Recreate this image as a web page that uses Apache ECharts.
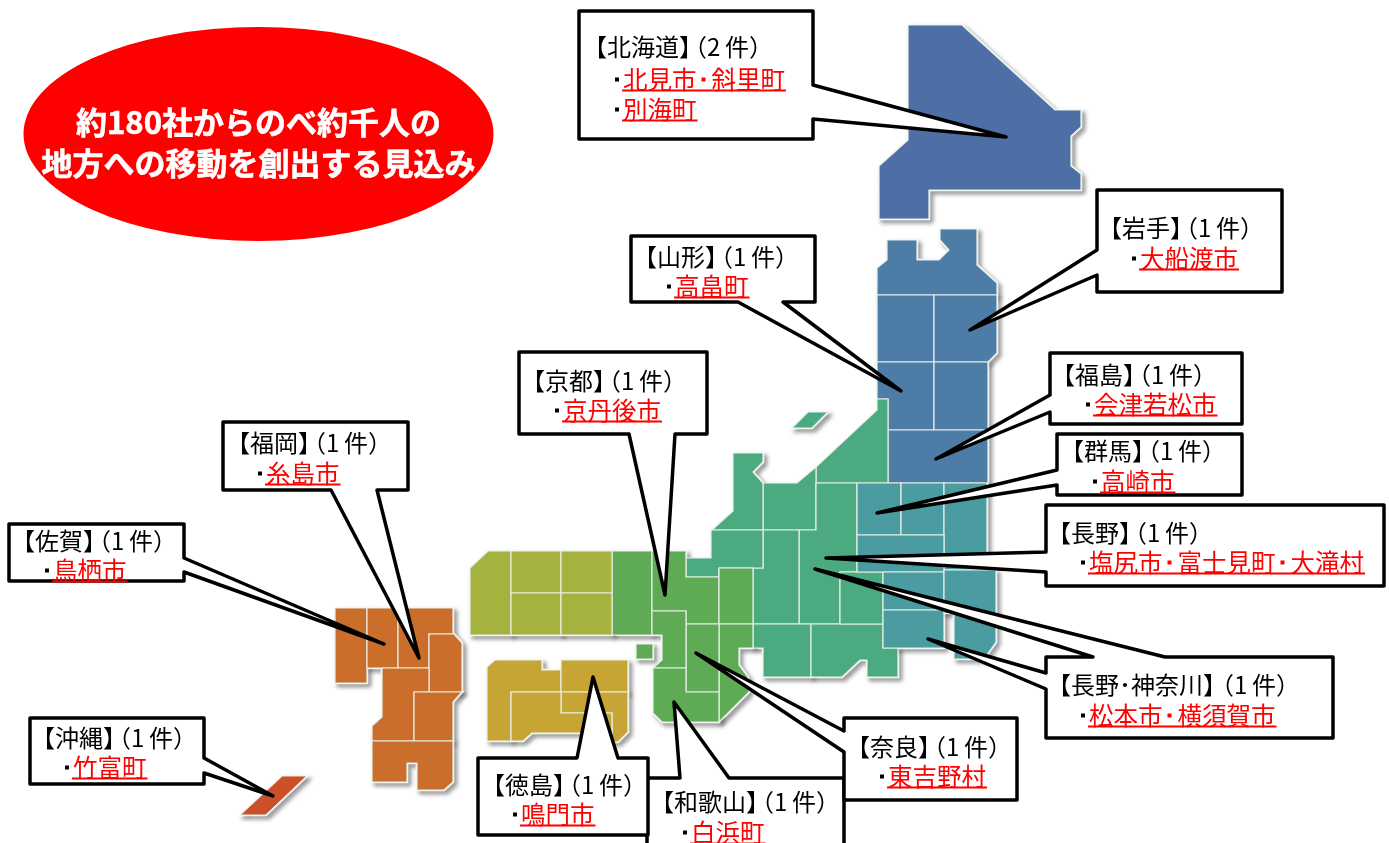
<!DOCTYPE html>
<html>
<head>
<meta charset="utf-8">
<title>地方への移動</title>
<style>
  html, body { margin: 0; padding: 0; background: #fff; }
  #chart { width: 1389px; height: 843px; }
</style>
<script src="https://cdn.jsdelivr.net/npm/echarts@6/dist/echarts.min.js"></script>
</head>
<body>
<div id="chart"></div>
<script>
// callout content
const headline = '約180社からのべ約千人の\n地方への移動を創出する見込み';
const regionNames = [
  ['和歌山'], ['北海道'], ['岩手'], ['山形'], ['京都'], ['福岡'], ['佐賀'], ['沖縄'],
  ['福島'], ['群馬'], ['長野'], ['長野', '神奈川'], ['奈良'], ['徳島']
];
const caseCounts = [1, 2, 1, 1, 1, 1, 1, 1, 1, 1, 1, 1, 1, 1];
const cityLines = [
  [['白浜町']],
  [['北見市', '斜里町'], ['別海町']],
  [['大船渡市']],
  [['高畠町']],
  [['京丹後市']],
  [['糸島市']],
  [['鳥栖市']],
  [['竹富町']],
  [['会津若松市']],
  [['高崎市']],
  [['塩尻市', '富士見町', '大滝村']],
  [['松本市', '横須賀市']],
  [['東吉野村']],
  [['鳴門市']]
];

// callout outlines (box + pointer), picture coordinates
const calloutOutlines = [
  [[647,778],[680,778],[674,702],[729,778],[844,778],[844,860],[647,860]],
  [[579,11],[813,11],[813,85],[1006,137],[813,119],[813,139],[579,139]],
  [[1097,190],[1282,190],[1282,292],[1097,292],[1097,275],[970,330],[1097,250]],
  [[631,236],[815,236],[815,302],[783,302],[901,391],[738,302],[631,302]],
  [[519,352],[707,352],[707,434],[675,434],[665,595],[629,434],[519,434]],
  [[223,422],[408,422],[408,490],[377,490],[419,658],[331,490],[223,490]],
  [[9,524],[184,524],[184,558],[384,644],[184,572],[184,581],[9,581]],
  [[30,718],[204,718],[204,758],[273,796],[204,773],[204,784],[30,784]],
  [[1050,353],[1242,353],[1242,424],[1050,424],[1050,412],[936,459],[1050,395]],
  [[1057,434],[1242,434],[1242,495],[1057,495],[1057,485],[877,513],[1057,470]],
  [[1046,505],[1384,505],[1384,586],[1046,586],[1046,572],[826,558],[1046,552]],
  [[1046,657],[1093,657],[815,569],[1165,657],[1333,657],[1333,738],[1046,738],[1046,689],[928,639],[1046,673]],
  [[844,718],[1017,718],[1017,800],[844,800],[844,752],[696,653],[844,731]],
  [[478,758],[577,758],[593,677],[618,758],[648,758],[648,835],[478,835]]
];
// headX, headY, dotX, first link line Y
const calloutTextAt = [
  [662,802,683,833], [595,47,615,80], [1110,228,1132,259], [645,257,667,287],
  [533,381,555,411], [238,443,258,474], [23,541,45,571], [43,738,65,768],
  [1063,375,1086,405], [1072,451,1093,482], [1059,533,1081,563], [1059,685,1081,716],
  [858,747,880,777], [493,785,513,815]
];

// prefecture outlines of the tile map
const hokkaido = [['北海道', [[908,25],[962,25],[1055,110],[1081,110],[1081,127],[1071,136],[1071,166],[1081,174],[1081,190],[929,190],[929,219],[879,219],[879,166],[908,140]]]];
const tohoku = [
  ['青森', [[887,240],[917,240],[917,260],[939,260],[949,250],[940,240],[940,229],[977,229],[977,265],[997,283],[997,295],[877,295],[877,268],[887,260]]],
  ['秋田', [[877,295],[934,295],[934,362],[877,362]]],
  ['岩手', [[934,295],[997,295],[997,353],[988,362],[934,362]]],
  ['山形', [[877,362],[934,362],[934,430],[888,430],[888,399],[877,399]]],
  ['宮城', [[934,362],[988,362],[988,430],[934,430]]],
  ['福島', [[888,430],[988,430],[988,483],[888,483]]]
];
const chubu = [
  ['新潟', [[877,399],[888,399],[888,483],[816,483],[816,467],[877,410]]],
  ['佐渡', [[792,428],[808,412],[828,412],[812,428]]],
  ['富山', [[763,483],[797,483],[816,467],[816,530],[763,530]]],
  ['石川', [[733,453],[763,453],[763,462],[753,472],[763,483],[763,530],[712,530],[733,511]]],
  ['長野', [[816,483],[857,483],[857,572],[840,572],[840,624],[799,624],[799,530],[816,530]]],
  ['岐阜', [[763,530],[799,530],[799,624],[753,624],[753,568],[763,568]]],
  ['福井', [[711,530],[763,530],[763,568],[719,568],[719,577],[686,577],[686,558],[711,558]]],
  ['愛知', [[753,624],[811,624],[811,677],[763,677],[763,648],[753,648]]],
  ['静岡', [[811,624],[883,624],[883,648],[898,648],[898,677],[867,677],[867,660],[860,660],[842,677],[811,677]]],
  ['山梨', [[840,572],[883,572],[883,624],[840,624]]]
];
const kanto = [
  ['群馬', [[857,483],[901,483],[901,535],[857,535]]],
  ['栃木', [[901,483],[944,483],[944,535],[901,535]]],
  ['茨城', [[944,483],[987,483],[987,570],[944,570]]],
  ['埼玉', [[857,535],[944,535],[944,572],[857,572]]],
  ['東京', [[883,572],[944,572],[944,610],[883,610]]],
  ['神奈川', [[883,610],[944,610],[944,648],[883,648]]],
  ['千葉', [[944,570],[996,570],[996,642],[984,659],[954,659],[954,613],[944,613]]]
];
const kinki = [
  ['兵庫', [[612,551],[652,551],[652,635],[612,635]]],
  ['京都', [[652,551],[686,551],[686,577],[719,577],[719,624],[686,624],[686,611],[652,611]]],
  ['滋賀', [[719,568],[753,568],[753,624],[719,624]]],
  ['三重', [[719,624],[753,624],[753,648],[739,648],[739,665],[748,677],[749,692],[719,722]]],
  ['奈良', [[686,624],[719,624],[719,692],[686,692]]],
  ['大阪', [[652,611],[686,611],[686,668],[653,668],[662,660],[662,635],[652,635]]],
  ['和歌山', [[653,668],[686,668],[686,692],[719,692],[719,722],[662,722],[653,713]]],
  ['淡路', [[636,644],[653,644],[653,659],[636,659]]]
];
const chugoku = [
  ['山口', [[470,568],[488,551],[511,551],[511,635],[470,635]]],
  ['島根', [[511,551],[561,551],[561,593],[511,593]]],
  ['鳥取', [[561,551],[612,551],[612,593],[561,593]]],
  ['広島', [[511,593],[561,593],[561,635],[511,635]]],
  ['岡山', [[561,593],[612,593],[612,635],[561,635]]]
];
const shikoku = [
  ['愛媛', [[487,667],[495,660],[542,660],[542,670],[561,670],[561,692],[511,692],[511,741],[487,741]]],
  ['香川', [[561,660],[628,660],[628,692],[561,692]]],
  ['徳島', [[561,692],[628,692],[628,732],[618,742],[612,742],[612,713],[561,713]]],
  ['高知', [[511,692],[561,692],[561,713],[612,713],[612,733],[532,733],[523,741],[511,741]]]
];
const kyushu = [
  ['長崎', [[335,608],[367,608],[367,683],[335,683]]],
  ['佐賀', [[367,608],[398,608],[398,668],[367,668]]],
  ['福岡', [[398,608],[453,608],[453,634],[429,634],[429,668],[398,668]]],
  ['大分', [[429,634],[454,634],[462,643],[462,692],[429,692]]],
  ['熊本', [[382,668],[429,668],[429,692],[414,692],[414,741],[372,741],[372,726],[382,717]]],
  ['宮崎', [[414,692],[462,692],[453,702],[453,741],[414,741]]],
  ['鹿児島', [[372,741],[453,741],[453,782],[444,790],[417,790],[417,763],[407,763],[407,782],[372,782]]]
];
const okinawa = [['沖縄', [[240,815],[282,776],[307,776],[266,815]]]];

const mapGroups = [
  [hokkaido, '#4e6fa6'],
  [tohoku, '#4d7da6'],
  [chubu, '#4caa80'],
  [kanto, '#4a9ca0'],
  [kinki, '#5fab55'],
  [chugoku, '#a5b23e'],
  [shikoku, '#c7a535'],
  [kyushu, '#cc6e2b'],
  [okinawa, '#cb5029']
];

const fontName = '"Noto Sans CJK JP"';
const HEAD_EM = 24;
const LINK_EM = 24.5;
const DOT_GAP = 15;

// picture y runs down, geo latitude runs up
const toGeo = (p) => [p[0], -p[1]];

const features = [];
const regionStyles = [];
mapGroups.forEach(([prefs, color]) => {
  prefs.forEach(([name, outline]) => {
    const ring = outline.concat([outline[0]]).map(toGeo);
    features.push({
      type: 'Feature',
      properties: { name: name },
      geometry: { type: 'Polygon', coordinates: [ring] }
    });
    regionStyles.push({ name: name, itemStyle: { areaColor: color } });
  });
});
echarts.registerMap('tileJapan', { type: 'FeatureCollection', features: features });

const geoBase = {
  map: 'tileJapan',
  silent: true,
  left: 0,
  top: 0,
  width: 1389,
  height: 843,
  aspectScale: 1,
  boundingCoords: [[0, 0], [1389, -843]],
  label: { show: false },
  emphasis: { disabled: true },
  select: { disabled: true }
};

function textEl(text, x, y, size, color) {
  return {
    type: 'text',
    x: x,
    y: y,
    style: {
      text: text,
      fill: color,
      font: size + 'px ' + fontName,
      verticalAlign: 'middle',
      align: 'left'
    }
  };
}

function dotEl(x, y, color) {
  return {
    type: 'rect',
    shape: { x: x, y: y - 2.5, width: 4, height: 4 },
    style: { fill: color }
  };
}

function renderCallout(params, api) {
  const i = params.dataIndex;
  const at = (x, y) => api.coord(toGeo([x, y]));
  const children = [{
    type: 'polygon',
    shape: { points: calloutOutlines[i].map((p) => at(p[0], p[1])) },
    style: { fill: '#fff', stroke: '#000', lineWidth: 3.5, lineJoin: 'round' }
  }];
  const [headX, headY, dotX, linkY] = calloutTextAt[i];

  // head line: 【name】（n件）
  const parts = regionNames[i];
  const chars = parts.join('').length;
  const nameStr = '【' + parts.join('･') + '】';
  let p = at(headX - HEAD_EM / 2, headY);
  children.push(textEl(nameStr, p[0], p[1], HEAD_EM, '#000'));
  const countX = headX + (chars + 1) * HEAD_EM + (parts.length - 1) * DOT_GAP - 8;
  p = at(countX, headY);
  children.push(textEl('（' + caseCounts[i], p[0], p[1], HEAD_EM, '#000'));
  p = at(countX + 42, headY);
  children.push(textEl('件）', p[0], p[1], HEAD_EM, '#000'));

  // link lines: dot, underlined red city names
  cityLines[i].forEach((cities, row) => {
    const y = linkY + row * 30;
    let q = at(dotX, y);
    children.push(dotEl(q[0], q[1], '#000'));
    let cursor = dotX + 8;
    const startX = cursor;
    cities.forEach((city, k) => {
      if (k > 0) {
        q = at(cursor + 5, y);
        children.push(dotEl(q[0], q[1], '#f00'));
        cursor += DOT_GAP;
      }
      q = at(cursor, y);
      children.push(textEl(city, q[0], q[1], LINK_EM, '#f00'));
      cursor += city.length * LINK_EM;
    });
    const a = at(startX - 1, y + 10.5);
    const b = at(cursor + 1, y + 10.5);
    children.push({
      type: 'line',
      shape: { x1: a[0], y1: a[1], x2: b[0], y2: b[1] },
      style: { stroke: '#f00', lineWidth: 2 }
    });
  });
  return { type: 'group', children: children };
}

const chart = echarts.init(document.getElementById('chart'), null, { renderer: 'canvas' });
chart.setOption({
  animation: false,
  backgroundColor: '#fff',
  geo: [
    // white rim + soft shadow under the whole map
    Object.assign({}, geoBase, {
      z: 0,
      itemStyle: {
        areaColor: '#fff',
        borderColor: '#fff',
        borderWidth: 2.5,
        shadowColor: 'rgba(0,0,0,0.35)',
        shadowBlur: 4,
        shadowOffsetX: 3,
        shadowOffsetY: 3
      }
    }),
    Object.assign({}, geoBase, {
      z: 1,
      itemStyle: {
        areaColor: '#ccc',
        borderColor: '#e6efe6',
        borderWidth: 1.2
      },
      regions: regionStyles
    })
  ],
  series: [
    {
      type: 'custom',
      coordinateSystem: 'geo',
      geoIndex: 1,
      silent: true,
      z: 5,
      data: calloutTextAt.map((t) => toGeo(t)),
      renderItem: renderCallout
    },
    {
      type: 'scatter',
      coordinateSystem: 'geo',
      geoIndex: 1,
      silent: true,
      z: 6,
      symbol: 'circle',
      symbolSize: [470, 214],
      itemStyle: { color: '#f00', opacity: 1 },
      label: {
        show: true,
        position: 'inside',
        formatter: headline,
        color: '#fff',
        fontFamily: fontName,
        fontWeight: 'bold',
        fontSize: 31,
        lineHeight: 41,
        align: 'center',
        offset: [0, 9],
        textBorderColor: '#fff',
        textBorderWidth: 0.6
      },
      data: [toGeo([258.5, 134])]
    }
  ]
});
</script>
</body>
</html>
